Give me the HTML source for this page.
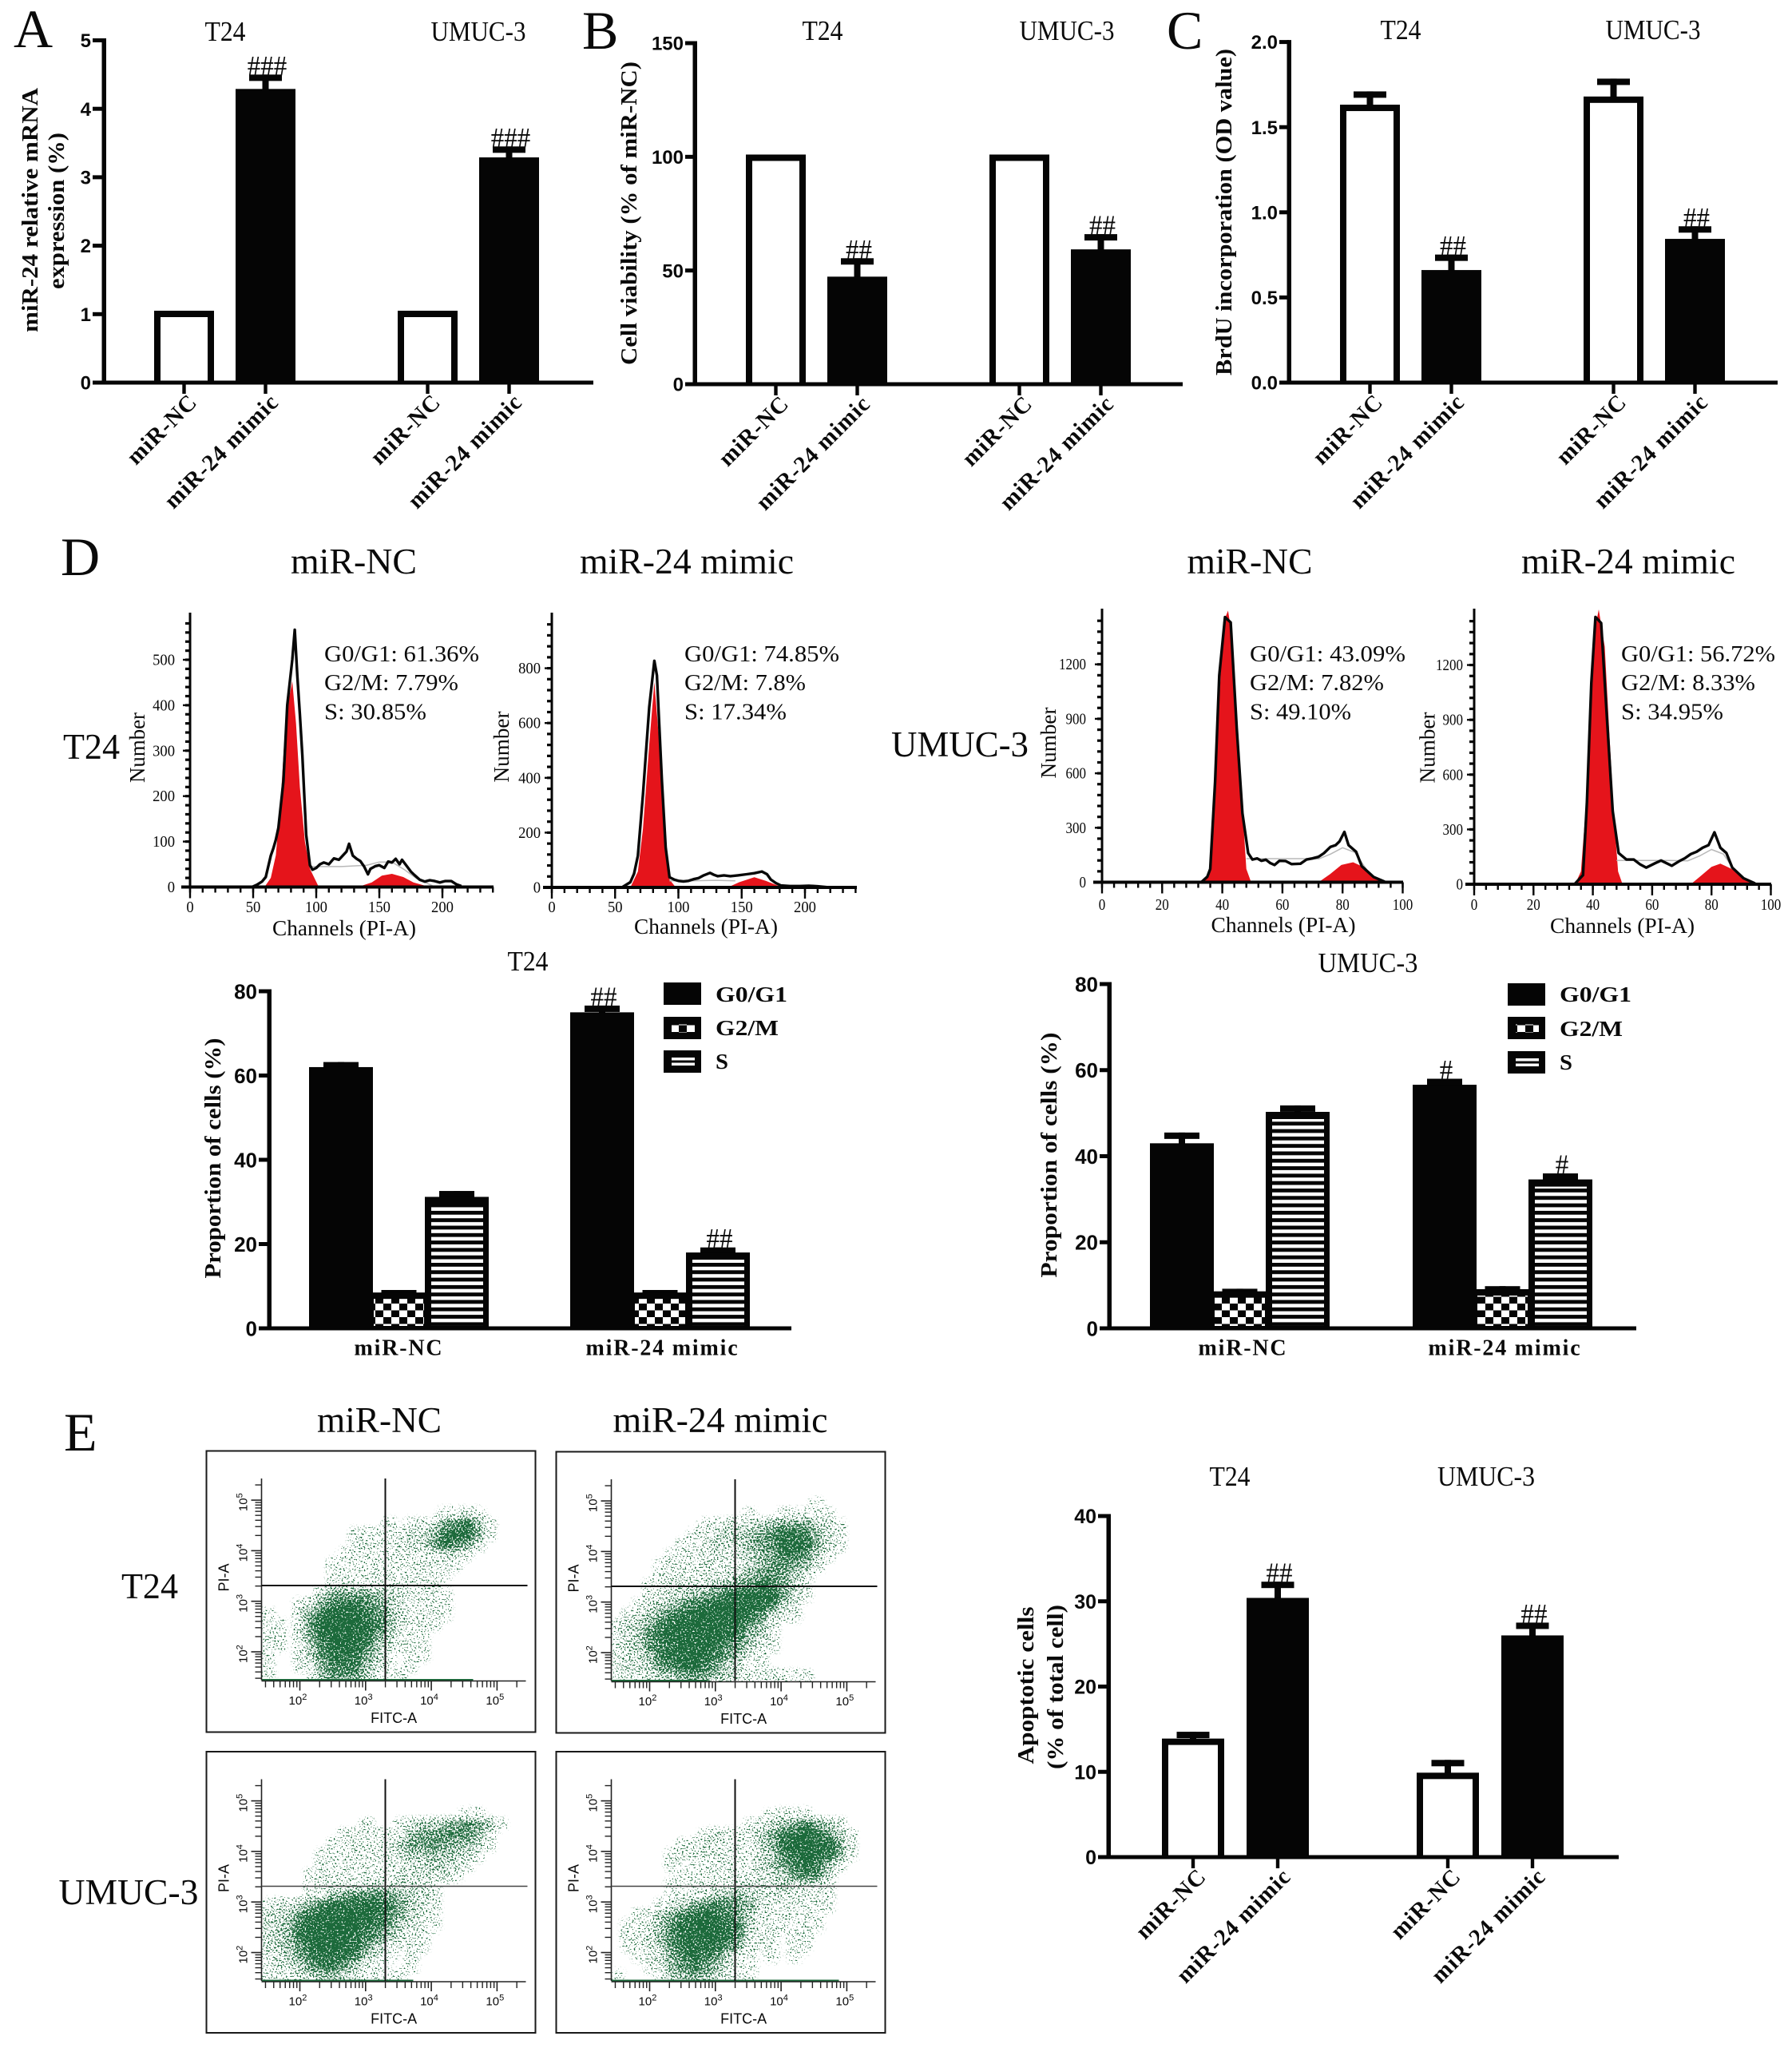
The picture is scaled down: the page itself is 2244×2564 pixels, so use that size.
<!DOCTYPE html>
<html lang="en">
<head>
<meta charset="utf-8">
<title>miR-24 mimic effects on T24 and UMUC-3 cells</title>
<style>
html,body{margin:0;padding:0;background:#fff}
svg{display:block}
text{fill:#0a0a0a}
.serif{font-family:"Liberation Serif",serif}
.bold{font-family:"Liberation Serif",serif;font-weight:700}
.sans{font-family:"Liberation Sans",sans-serif}
.letter{font-family:"Liberation Serif",serif;font-size:68px}
.title{font-family:"Liberation Serif",serif;font-size:35px;text-anchor:middle}
.head{font-family:"Liberation Serif",serif;font-size:45px;text-anchor:middle}
.note{font-family:"Liberation Serif",serif;font-size:29px}
.ylab{font-family:"Liberation Serif",serif;font-weight:700;font-size:28px;text-anchor:middle}
.num{font-family:"Liberation Serif",serif;font-size:27px;text-anchor:middle}
.chan{font-family:"Liberation Serif",serif;font-size:27px;text-anchor:middle}
.leg{font-family:"Liberation Serif",serif;font-weight:700;font-size:27px}
</style>
</head>
<body>
<svg id="figure" xmlns="http://www.w3.org/2000/svg" width="2244" height="2564" viewBox="0 0 2244 2564">
<defs>
<pattern id="check" patternUnits="userSpaceOnUse" width="20" height="17"><rect width="20" height="17" fill="#fff"/><rect width="10" height="8.5" fill="#050505"/><rect x="10" y="8.5" width="10" height="8.5" fill="#050505"/></pattern>
<pattern id="stripe" patternUnits="userSpaceOnUse" width="20" height="9.3"><rect width="20" height="9.3" fill="#fff"/><rect width="20" height="4.8" fill="#050505"/></pattern>
<filter id="speckle" x="0" y="0" width="1" height="1" color-interpolation-filters="sRGB">
<feGaussianBlur in="SourceAlpha" stdDeviation="3.5" result="density"/>
<feTurbulence type="fractalNoise" baseFrequency="0.5" numOctaves="2" seed="7" result="noise"/>
<feColorMatrix in="noise" type="matrix" values="0 0 0 0 0  0 0 0 0 0  0 0 0 0 0  -3 0 0 0 2.0" result="thresh"/>
<feComposite in="density" in2="thresh" operator="arithmetic" k1="0" k2="1" k3="1" k4="-1" result="mix"/>
<feComponentTransfer in="mix" result="hard"><feFuncA type="linear" slope="30" intercept="0"/></feComponentTransfer>
<feFlood flood-color="#1c6a3b" result="green"/>
<feComposite in="green" in2="hard" operator="in"/>
</filter>
</defs>

<text class="letter" x="17" y="59">A</text>
<text class="letter" x="729" y="61">B</text>
<text class="letter" x="1461" y="61">C</text>
<text class="letter" x="76" y="720">D</text>
<text class="letter" x="80" y="1816">E</text>

<text class="title" x="282" y="51" textLength="51" lengthAdjust="spacingAndGlyphs">T24</text>
<text class="title" x="599" y="51" textLength="119" lengthAdjust="spacingAndGlyphs">UMUC-3</text>
<text class="title" x="1030" y="50" textLength="51" lengthAdjust="spacingAndGlyphs">T24</text>
<text class="title" x="1336" y="50" textLength="119" lengthAdjust="spacingAndGlyphs">UMUC-3</text>
<text class="title" x="1754" y="49" textLength="51" lengthAdjust="spacingAndGlyphs">T24</text>
<text class="title" x="2070" y="49" textLength="119" lengthAdjust="spacingAndGlyphs">UMUC-3</text>
<text class="title" x="661" y="1215" textLength="51" lengthAdjust="spacingAndGlyphs">T24</text>
<text class="title" x="1713" y="1217" textLength="125" lengthAdjust="spacingAndGlyphs">UMUC-3</text>
<text class="title" x="1540" y="1860" textLength="51" lengthAdjust="spacingAndGlyphs">T24</text>
<text class="title" x="1861" y="1860" textLength="122" lengthAdjust="spacingAndGlyphs">UMUC-3</text>

<text class="ylab" transform="translate(47,263) rotate(-90)" textLength="306" lengthAdjust="spacingAndGlyphs">miR-24 relative mRNA</text>
<text class="ylab" transform="translate(80,264) rotate(-90)" textLength="196" lengthAdjust="spacingAndGlyphs">expression (%)</text>
<text class="ylab" transform="translate(797,267) rotate(-90)" textLength="380" lengthAdjust="spacingAndGlyphs">Cell viability (% of miR-NC)</text>
<text class="ylab" transform="translate(1542,265.5) rotate(-90)" textLength="409" lengthAdjust="spacingAndGlyphs">BrdU incorporation (OD value)</text>
<text class="ylab" transform="translate(276,1450) rotate(-90)" textLength="301" lengthAdjust="spacingAndGlyphs">Proportion of cells (%)</text>
<text class="ylab" transform="translate(1323,1446) rotate(-90)" textLength="307" lengthAdjust="spacingAndGlyphs">Proportion of cells (%)</text>
<text class="ylab" transform="translate(1294,2110) rotate(-90)" textLength="197" lengthAdjust="spacingAndGlyphs">Apoptotic cells</text>
<text class="ylab" transform="translate(1331,2112) rotate(-90)" textLength="206" lengthAdjust="spacingAndGlyphs">(% of total cell)</text>

<text class="head" x="443" y="718" textLength="158" lengthAdjust="spacingAndGlyphs">miR-NC</text>
<text class="head" x="860" y="718" textLength="268" lengthAdjust="spacingAndGlyphs">miR-24 mimic</text>
<text class="head" x="1565" y="718" textLength="157" lengthAdjust="spacingAndGlyphs">miR-NC</text>
<text class="head" x="2039" y="718" textLength="268" lengthAdjust="spacingAndGlyphs">miR-24 mimic</text>
<text class="head" x="475" y="1793" textLength="156" lengthAdjust="spacingAndGlyphs">miR-NC</text>
<text class="head" x="902" y="1793" textLength="269" lengthAdjust="spacingAndGlyphs">miR-24 mimic</text>

<text class="head" x="114.5" y="950" textLength="71" lengthAdjust="spacingAndGlyphs">T24</text>
<text class="head" x="1202" y="947" textLength="172" lengthAdjust="spacingAndGlyphs">UMUC-3</text>
<text class="head" x="187.5" y="2001" textLength="71" lengthAdjust="spacingAndGlyphs">T24</text>
<text class="head" x="161" y="2384" textLength="175" lengthAdjust="spacingAndGlyphs">UMUC-3</text>

<g id="a"></g>
<g id="b"></g>
<g id="c"></g>
<g id="e"></g>
<g id="dt"></g>
<g id="du"></g>
<g id="h1"></g>
<g id="h2"></g>
<g id="h3"></g>
<g id="h4"></g>
<g id="p1"></g>
<g id="p2"></g>
<g id="p3"></g>
<g id="p4"></g>

<g>
<text class="num" transform="translate(181,936) rotate(-90)" textLength="88" lengthAdjust="spacingAndGlyphs">Number</text>
<text class="chan" x="431" y="1171" textLength="180" lengthAdjust="spacingAndGlyphs">Channels (PI-A)</text>
<text class="note" x="406" y="828" textLength="194" lengthAdjust="spacingAndGlyphs">G0/G1: 61.36%</text>
<text class="note" x="406" y="864" textLength="168" lengthAdjust="spacingAndGlyphs">G2/M: 7.79%</text>
<text class="note" x="406" y="900.5" textLength="128" lengthAdjust="spacingAndGlyphs">S: 30.85%</text>
</g>
<g>
<text class="num" transform="translate(637,935) rotate(-90)" textLength="89" lengthAdjust="spacingAndGlyphs">Number</text>
<text class="chan" x="884" y="1169" textLength="180" lengthAdjust="spacingAndGlyphs">Channels (PI-A)</text>
<text class="note" x="857" y="828" textLength="194" lengthAdjust="spacingAndGlyphs">G0/G1: 74.85%</text>
<text class="note" x="857" y="864" textLength="152" lengthAdjust="spacingAndGlyphs">G2/M: 7.8%</text>
<text class="note" x="857" y="900.5" textLength="128" lengthAdjust="spacingAndGlyphs">S: 17.34%</text>
</g>
<g>
<text class="num" transform="translate(1322,930) rotate(-90)" textLength="89" lengthAdjust="spacingAndGlyphs">Number</text>
<text class="chan" x="1607" y="1167" textLength="181" lengthAdjust="spacingAndGlyphs">Channels (PI-A)</text>
<text class="note" x="1565" y="828" textLength="195" lengthAdjust="spacingAndGlyphs">G0/G1: 43.09%</text>
<text class="note" x="1565" y="864" textLength="168" lengthAdjust="spacingAndGlyphs">G2/M: 7.82%</text>
<text class="note" x="1565" y="900.5" textLength="127" lengthAdjust="spacingAndGlyphs">S: 49.10%</text>
</g>
<g>
<text class="num" transform="translate(1796.5,936) rotate(-90)" textLength="89" lengthAdjust="spacingAndGlyphs">Number</text>
<text class="chan" x="2031.5" y="1168" textLength="181" lengthAdjust="spacingAndGlyphs">Channels (PI-A)</text>
<text class="note" x="2030" y="828" textLength="193" lengthAdjust="spacingAndGlyphs">G0/G1: 56.72%</text>
<text class="note" x="2030" y="864" textLength="168" lengthAdjust="spacingAndGlyphs">G2/M: 8.33%</text>
<text class="note" x="2030" y="900.5" textLength="128" lengthAdjust="spacingAndGlyphs">S: 34.95%</text>
</g>

<g>
<g><rect x="831" y="1230" width="47" height="28" fill="#050505"/><text class="leg" x="896" y="1254" textLength="90" lengthAdjust="spacingAndGlyphs">G0/G1</text></g>
<g><rect x="831" y="1273" width="47" height="28" fill="#050505"/><rect x="841" y="1282.5" width="29" height="10" fill="url(#check)"/><text class="leg" x="896" y="1296" textLength="79" lengthAdjust="spacingAndGlyphs">G2/M</text></g>
<g><rect x="831" y="1315" width="47" height="28" fill="#050505"/><rect x="841" y="1324" width="29" height="3.5" fill="#fff"/><rect x="841" y="1330.5" width="29" height="3.5" fill="#fff"/><text class="leg" x="896" y="1338" textLength="16" lengthAdjust="spacingAndGlyphs">S</text></g>
</g>
<g>
<g><rect x="1888" y="1231" width="47" height="28" fill="#050505"/><text class="leg" x="1953" y="1254" textLength="90" lengthAdjust="spacingAndGlyphs">G0/G1</text></g>
<g><rect x="1888" y="1273" width="47" height="28" fill="#050505"/><rect x="1898" y="1282.5" width="29" height="10" fill="url(#check)"/><text class="leg" x="1953" y="1297" textLength="79" lengthAdjust="spacingAndGlyphs">G2/M</text></g>
<g><rect x="1888" y="1316" width="47" height="28" fill="#050505"/><rect x="1898" y="1325" width="29" height="3.5" fill="#fff"/><rect x="1898" y="1331.5" width="29" height="3.5" fill="#fff"/><text class="leg" x="1953" y="1339" textLength="16" lengthAdjust="spacingAndGlyphs">S</text></g>
</g>
</svg>

<script>
// ---------- bar chart data ----------
const barCategories = ['miR-NC','miR-24 mimic','miR-NC','miR-24 mimic'];
const aTicks = ['0','1','2','3','4','5'];
const aValues = [1.05,4.29,1.05,3.29];
const aErrors = [0,0.21,0,0.16];
const aMarks = ['','###','','###'];
const bTicks = ['0','50','100','150'];
const bValues = [101,47.3,101,59.3];
const bErrors = [0,8.1,0,6.7];
const bMarks = ['','##','','##'];
const cTicks = ['0.0','0.5','1.0','1.5','2.0'];
const cValues = [1.632,0.661,1.68,0.844];
const cErrors = [0.078,0.091,0.105,0.074];
const cMarks = ['','##','','##'];
const eTicks = ['0','10','20','30','40'];
const eValues = [13.9,30.4,9.9,26.0];
const eErrors = [0.8,1.9,1.5,1.5];
const eMarks = ['','##','','##'];

const dGroups = ['miR-NC','miR-24 mimic'];
const dTicks = ['0','20','40','60','80'];
const dT24G0 = [62,75];
const dT24G2 = [8.5,8.5];
const dT24S = [31.2,18];
const dT24G0Err = [1.2,1.6];
const dT24G2Err = [0.6,0.6];
const dT24SErr = [1.4,1.2];
const dT24G0Marks = ['','##'];
const dT24SMarks = ['','##'];
const dUmucG0 = [43,56.6];
const dUmucG2 = [8.6,9.1];
const dUmucS = [50.3,34.6];
const dUmucG0Err = [2.5,1.4];
const dUmucG2Err = [0.6,0.7];
const dUmucSErr = [1.5,1.4];
const dUmucG0Marks = ['','#'];
const dUmucSMarks = ['','#'];

// ---------- histogram data ----------
const h1XTicks = ['0','50','100','150','200'];
const h1YTicks = ['0','100','200','300','400','500'];
const h1Channels = [49,53,57,60,64,66,68,70,71,74,77,81,83,85,87,89,92,95,97,100,103,106,110,114,118,121,124,126,129,132,135,138,141,143,147,150,154,157,160,163,166,168,172,175,178,182,186,190,194,198,202,207,211,215];
const h1Counts = [0,5,12,22,69,85,104,130,156,233,400,500,566,465,380,290,115,48,38,42,50,54,50,63,60,69,78,95,69,62,57,45,28,40,46,48,42,56,54,62,50,60,45,34,26,16,12,15,13,10,13,13,6,2];
const h1G1Channels = [59,64,68,72,76,81,84,87,91,95,102];
const h1G1Counts = [0,20,70,200,380,453,360,220,100,40,0];
const h1G2Channels = [133,144,152,160,169,177,190];
const h1G2Counts = [0,10,25,29,22,10,0];
const h1FitChannels = [95,100,120,140,150,160,170,180,192];
const h1FitCounts = [45,45,45,48,55,55,38,18,3];

const h2XTicks = ['0','50','100','150','200'];
const h2YTicks = ['0','200','400','600','800'];
const h2Channels = [56,62,65,68,72,77,81,83,87,90,93,97,100,104,108,112,116,120,125,128,131,136,141,147,154,160,166,170,173,177,181,188,196,203,210,219];
const h2Counts = [2,19,50,116,338,658,827,774,387,145,37,28,24,22,24,30,34,44,53,46,41,44,41,44,48,52,58,48,29,16,7,5,5,6,4,0];
const h2G1Channels = [62,68,72,77,81,85,89,93,98];
const h2G1Counts = [0,58,213,522,750,522,193,29,0];
const h2G2Channels = [139,148,160,169,181];
const h2G2Counts = [0,19,37,24,2];
const h2FitChannels = [93,110,130,145];
const h2FitCounts = [24,24,26,24];

const h3XTicks = ['0','20','40','60','80','100'];
const h3YTicks = ['0','300','600','900','1200'];
const h3Channels = [33,35,36,37.6,39,40.9,42.8,44.8,46.7,48.6,50,51.6,53,54.5,56,57.4,59,61,63,66,68,70,72,73.8,76,77.7,79,80.6,82,84.5,86.4,90.3,94];
const h3Counts = [0,30,73,555,1139,1460,1431,847,380,160,125,131,118,124,105,95,118,117,100,102,125,131,140,160,195,204,225,277,204,168,88,29,3];
const h3G1Channels = [34,36,37.6,39,40.3,41.9,43.4,45,46.7,48,49.6];
const h3G1Counts = [0,73,482,993,1430,1496,1343,847,409,73,0];
const h3G2Channels = [72,75.8,79.6,83.5,87.4,91,95];
const h3G2Counts = [0,44,95,110,80,26,0];
const h3FitChannels = [48,56,66,72,76,80,84,88];
const h3FitCounts = [130,130,130,128,155,190,165,70];

const h4XTicks = ['0','20','40','60','80','100'];
const h4YTicks = ['0','300','600','900','1200'];
const h4Channels = [33.8,36.7,38,39.5,40.9,42.8,44.8,46.7,48.7,51.3,53.8,56,58,61,63,66.6,69,71,73,75,77,79,81,83,85,87,90.8,94.7];
const h4Counts = [0,50,450,1100,1463,1430,900,400,171,135,135,108,91,115,130,101,125,142,165,178,200,214,284,200,171,91,33,4];
const h4G1Channels = [34,36,38,39.5,41,42,44,45.5,47,48.5,50];
const h4G1Counts = [0,70,500,1000,1420,1504,1300,850,400,70,0];
const h4G2Channels = [73,76,80,83,87,91,94];
const h4G2Counts = [0,40,95,113,82,26,4];
const h4FitChannels = [48,56,66,72,76,80,84,88];
const h4FitCounts = [130,130,130,128,155,190,165,70];

// ---------- dot plot density grids (digit 0-9 per cell) ----------
const flowDecades = ['2','3','4','5'];
const p1Density = [
"000000000000000000000000","000000000000000000000000","000000000000000000000000",
"000000000000000011210000","000000000001011256841000","000000001111122478851000",
"000000001211222587520000","000000011111111122100000","000000111111111111000000",
"000000111111111110000000","000000111111111100000000","000003555543211110000000",
"000125788653211110000000","100258999864211110000000","110269999974111100000000",
"110258999853111000000000","110147999742111000000000","100136888531011000000000",
"100125777421010000000000","100014666311100000000000"];
const p2Density = [
"000000000000000000000000","000000000000000000000000","000000000000000000100000",
"000000000000100111110000","000000001122234555321000","000000011233456887421000",
"000000111322456888521000","000001111212345776310000","000011112111345654200000",
"000011211223456532000000","000112222345787531000000","000122345689999531000000",
"001234678999987310000000","012357899999862110000000","123578999998541000000000",
"123689999987431000000000","123678999865311000000000","122478899754110000000000",
"122367897532010000000000","111233565432111111000000"];
const p3Density = [
"000000000000000000000000","000000000000000000000000","000000000000000000000000",
"000000000000000000110000","000000000100123345654100","000000011111145566641000",
"000000111112355654431000","000001111111233433210000","000001111111222332100000",
"000011111111222221000000","000011111222222100000000","000012456665432200000000",
"122357888987532100000000","223689999986431100000000","234799999875321100000000",
"234899998764211000000000","234689998531111000000000","123578887321010000000000",
"122367753110010000000000","111234432111100000000000"];
const p4Density = [
"000000000000000000000000","000000000000000000000000","000000000000000000000000",
"000000000000001111000000","000000000000112457532000","000000001211135789863100",
"000000112111124899996100","000001111211123689985100","000001011111124578741000",
"000000111111122357630000","000001011212222322210000","000001112344322211110000",
"000012356765421111110000","001135789875311111100000","011246899986311101100000",
"011247899986211011000000","011236889864111011000000","001125787631101010000000",
"000124676421100000000000","100013454311100000000000"];

// ---------- helpers ----------
const NS = 'http://www.w3.org/2000/svg';
const BLACK = '#050505';
function mk(parent, tag, attrs, text) {
  const n = document.createElementNS(NS, tag);
  for (const k in attrs) n.setAttribute(k, attrs[k]);
  if (text !== undefined) n.textContent = text;
  parent.appendChild(n);
  return n;
}
function linearScale(d0, d1, r0, r1) {
  return v => r0 + (v - d0) / (d1 - d0) * (r1 - r0);
}

function drawYAxis(g, L, ticks, yScale) {
  ticks.forEach(label => {
    const y = yScale(parseFloat(label));
    const tick = mk(g, 'rect', {x: L.tickLeft, y: y - 2.5, width: L.axisX - L.tickLeft, height: 5, fill: BLACK});
    
    
    const t = mk(g, 'text', {x: L.tickLeft - 2, y: y + L.tickFont * 0.36, 'text-anchor': 'end', 'font-size': L.tickFont, 'font-weight': 700, class: 'sans'}, label);
    
    
  });
  const yAxisLine = mk(g, 'rect', {x: L.axisX - 2.5, y: L.yTop - 2.5, width: 5.5, height: L.y0 - L.yTop + 5, fill: BLACK});
  
  
  const xAxisLine = mk(g, 'rect', {x: L.tickLeft, y: L.y0 - 2.5, width: L.axisEnd - L.tickLeft, height: 5, fill: BLACK});
  
  
}

function drawCap(g, cx, capTop, barTop, capW) {
  const stem = mk(g, 'rect', {x: cx - 4, y: capTop, width: 8, height: Math.max(0, barTop - capTop) + 2, fill: BLACK});
  
  
  const cap = mk(g, 'rect', {x: cx - capW / 2, y: capTop, width: capW, height: 8, fill: BLACK});
  
  
}
function drawMark(g, cx, capTop, mark) {
  if (!mark) return;
  const t = mk(g, 'text', {x: cx + 2, y: capTop + 1, 'text-anchor': 'middle', 'font-size': 36, class: 'serif', textLength: mark.length * 16.5, lengthAdjust: 'spacingAndGlyphs'}, mark);
  
  
}

function drawBarChart(id, L, ticks, categories, values, errors, marks) {
  const g = document.getElementById(id);
  const yScale = linearScale(0, parseFloat(ticks[ticks.length - 1]), L.y0, L.yTop);
  const barX = i => L.left + Math.floor(i / 2) * L.groupPitch + (i % 2) * L.barPitch;
  values.forEach((v, i) => {
    const x = barX(i), cx = x + L.barW / 2, top = yScale(v);
    const capTop = yScale(v + errors[i]);
    if (errors[i] > 0) drawCap(g, cx, capTop, top, 41);
    const bar = mk(g, 'rect', {x: x, y: top, width: L.barW, height: L.y0 - top, fill: BLACK});
    
    
    if (i % 2 === 0) {
      const hollow = mk(g, 'rect', {x: x + 8, y: top + 8, width: L.barW - 16, height: L.y0 - top - 8, fill: '#fff'});
      
      
    }
    drawMark(g, cx, errors[i] > 0 ? capTop : top, marks[i]);
    const xtick = mk(g, 'rect', {x: cx - 2.2, y: L.y0, width: 4.4, height: 14, fill: BLACK});
    
    
    const ax = cx + 18, ay = L.y0 + 26;
    const lab = mk(g, 'text', {transform: 'translate(' + ax + ',' + ay + ') rotate(-45)', 'text-anchor': 'end', 'font-size': 29, 'letter-spacing': 1, class: 'bold'}, categories[i]);
    
    
  });
  drawYAxis(g, L, ticks, yScale);
}

function drawGroupedChart(id, L, ticks, groups, g0, g2, s, g0Err, g2Err, sErr, g0Marks, sMarks) {
  const g = document.getElementById(id);
  const yScale = linearScale(0, parseFloat(ticks[ticks.length - 1]), L.y0, L.yTop);
  groups.forEach((name, i) => {
    const base = L.left + i * L.groupPitch;
    const xG0 = base, xG2 = base + L.w0, xS = xG2 + L.w2;
    // G0/G1 solid
    const tG0 = yScale(g0[i]);
    drawCap(g, xG0 + L.w0 / 2 - 0, yScale(g0[i] + g0Err[i]), tG0, 44);
    const r0 = mk(g, 'rect', {x: xG0, y: tG0, width: L.w0, height: L.y0 - tG0, fill: BLACK});
    
    
    drawMark(g, xG0 + L.w0 / 2, yScale(g0[i] + g0Err[i]), g0Marks[i]);
    // G2/M checker
    const tG2 = yScale(g2[i]);
    drawCap(g, xG2 + L.w2 / 2, yScale(g2[i] + g2Err[i]), tG2, 44);
    const r2a = mk(g, 'rect', {x: xG2, y: tG2, width: L.w2, height: L.y0 - tG2, fill: BLACK});
    
    
    const r2b = mk(g, 'rect', {x: xG2 + 1, y: tG2 + 8, width: L.w2 - 2, height: L.y0 - tG2 - 11, fill: 'url(#check)'});
    
    
    // S striped
    const tS = yScale(s[i]);
    drawCap(g, xS + L.w0 / 2, yScale(s[i] + sErr[i]), tS, 44);
    const r3a = mk(g, 'rect', {x: xS, y: tS, width: L.w0, height: L.y0 - tS, fill: BLACK});
    
    
    const r3b = mk(g, 'rect', {x: xS + 8, y: tS + 9, width: L.w0 - 15, height: L.y0 - tS - 12, fill: 'url(#stripe)'});
    
    
    drawMark(g, xS + L.w0 / 2, yScale(s[i] + sErr[i]), sMarks[i]);
    const lab = mk(g, 'text', {x: xG2 + L.w2 / 2 + (i ? 3 : L.firstLabelShift), y: L.y0 + 33.5, 'text-anchor': 'middle', 'font-size': 28, 'letter-spacing': 1.8, class: 'bold'}, name);
    
    
  });
  drawYAxis(g, L, ticks, yScale);
}

function pts(chs, cnts, x, y) {
  return chs.map((c, i) => x(c).toFixed(1) + ',' + y(cnts[i]).toFixed(1)).join(' ');
}
function drawHistogram(id, L, xTicks, yTicks, channels, counts, g1Ch, g1Cnt, g2Ch, g2Cnt, fitCh, fitCnt) {
  const g = document.getElementById(id);
  const x = v => L.x0 + v * L.pxX;
  const y = v => L.y0 - v * L.pxY;
  [[g1Ch, g1Cnt, 'g1-peak-fill'], [g2Ch, g2Cnt, 'g2-peak-fill']].forEach(s => {
    const poly = mk(g, 'polygon', {points: pts(s[0], s[1], x, y), fill: '#e5141b'});
    
    
  });
  const fit = mk(g, 'polyline', {points: pts(fitCh, fitCnt, x, y), fill: 'none', stroke: '#b8b8b8', 'stroke-width': 1.5});
  
  
  const line = mk(g, 'polyline', {points: pts(channels, counts, x, y), fill: 'none', stroke: '#080808', 'stroke-width': 3.4, 'stroke-linejoin': 'round'});
  
  

  const axisX = mk(g, 'rect', {x: L.x0 - 11, y: L.y0 - 2, width: L.xEnd - L.x0 + 11, height: 4, fill: BLACK});
  
  
  const axisY = mk(g, 'rect', {x: L.x0 - 1.5, y: L.yTop, width: 3, height: L.y0 - L.yTop, fill: BLACK});
  
  

  const xMax = (L.xEnd - L.x0) / L.pxX;
  for (let v = 0; v <= xMax + 0.01; v += L.xMinor) {
    const tk = mk(g, 'rect', {x: x(v) - 1.2, y: L.y0, width: 2.4, height: 7, fill: BLACK});
    
    
  }
  const yMax = (L.y0 - L.yTop) / L.pxY;
  for (let v = L.yMinor; v <= yMax - 10; v += L.yMinor) {
    const tk = mk(g, 'rect', {x: L.x0 - 6, y: y(v) - 1.6, width: 6, height: 3.2, fill: BLACK});
    
    
  }
  xTicks.forEach(label => {
    const v = parseFloat(label);
    const tk = mk(g, 'rect', {x: x(v) - 1.2, y: L.y0, width: 2.4, height: 14, fill: BLACK});
    
    
    const t = mk(g, 'text', {x: x(v), y: L.xLabelY, 'text-anchor': 'middle', 'font-size': 20, class: 'serif', textLength: label.length * L.digitW, lengthAdjust: 'spacingAndGlyphs'}, label);
    
    
  });
  yTicks.forEach(label => {
    const v = parseFloat(label);
    const tk = mk(g, 'rect', {x: L.x0 - 9, y: y(v) - 1.2, width: 9, height: 2.4, fill: BLACK});
    
    
    const t = mk(g, 'text', {x: L.x0 - L.labelGap, y: y(v) + 6.5, 'text-anchor': 'end', 'font-size': 20, class: 'serif', textLength: label.length * L.digitW, lengthAdjust: 'spacingAndGlyphs'}, label);
    
    
  });
}

function drawDotPlot(id, bx, by, rows, baseEnd, thinH) {
  const g = document.getElementById(id);
  const box = mk(g, 'rect', {x: bx, y: by, width: 412, height: 352, fill: '#fff', stroke: '#1a1a1a', 'stroke-width': 2});
  
  
  const ax = bx + 69, top = by + 34.5, bot = by + 287, right = bx + 400;
  const cellW = 333 / 24, cellH = (bot - top) / 20;
  const cloud = mk(g, 'g', {filter: 'url(#speckle)'});
  
  
  rows.forEach((row, r) => {
    for (let c = 0; c < row.length; c++) {
      const cell = mk(cloud, 'rect', {x: ax + c * cellW, y: top + r * cellH, width: cellW + 0.3, height: cellH + 0.3, fill: '#000', 'fill-opacity': (+row[c] / 9).toFixed(2)});
      
      
    }
  });
  const baseLine = mk(g, 'rect', {x: ax, y: bot - 1.5, width: baseEnd, height: 2.5, fill: '#1c6a3b'});
  
  

  const xDec = v => ax + 48 + (v - 2) * 82.3;
  const yDec = v => by + 251.5 - (v - 2) * 63.3;
  const linesDef = [[ax, top, ax, bot, 1.6, 'y-axis-line'], [ax, bot + 1, right, bot + 1, 1.4, 'x-axis-line']];
  linesDef.forEach(d => {
    const l = mk(g, 'line', {x1: d[0], y1: d[1], x2: d[2], y2: d[3], stroke: '#222', 'stroke-width': d[4]});
    
    
  });
  const mult = [2,3,4,5,6,7,8,9];
  for (let dec = 1; dec <= 5; dec++) {
    mult.forEach(m => {
      const p = dec + Math.log10(m);
      const tx = xDec(p);
      if (tx > ax && tx < right) {
        const tkx = mk(g, 'line', {x1: tx, y1: bot + 1, x2: tx, y2: bot + 9, stroke: '#222', 'stroke-width': 1.4});
        
        
      }
      const ty = yDec(p);
      if (ty > top && ty < bot) {
        const tky = mk(g, 'line', {x1: ax - 8, y1: ty, x2: ax, y2: ty, stroke: '#222', 'stroke-width': 1.4});
        
        
      }
    });
  }
  flowDecades.forEach(label => {
    const e = parseFloat(label);
    const tx = xDec(e), ty = yDec(e);
    const tkx = mk(g, 'line', {x1: tx, y1: bot + 1, x2: tx, y2: bot + 13, stroke: '#222', 'stroke-width': 1.6});
    
    
    const tky = mk(g, 'line', {x1: ax - 13, y1: ty, x2: ax, y2: ty, stroke: '#222', 'stroke-width': 1.6});
    
    
    const lx = mk(g, 'text', {x: tx - 14, y: by + 317.5, 'font-size': 15, class: 'sans', fill: '#222'}, '10');
    
    
    const sx = mk(lx, 'tspan', {dy: -6, 'font-size': 11}, label);
    
    
    const ly = mk(g, 'text', {transform: 'translate(' + (bx + 51) + ',' + (ty + 14) + ') rotate(-90)', 'font-size': 15, class: 'sans'}, '10');
    
    
    const sy = mk(ly, 'tspan', {dy: -6, 'font-size': 11}, label);
    
    
  });
  const vGate = mk(g, 'line', {x1: bx + 224, y1: top, x2: bx + 224, y2: bot, stroke: '#111', 'stroke-width': 2});
  
  
  const hGate = mk(g, 'line', {x1: ax, y1: by + 168.5, x2: bx + 402, y2: by + 168.5, stroke: thinH ? '#444' : '#111', 'stroke-width': thinH ? 1.4 : 2});
  
  
  const xt = mk(g, 'text', {x: bx + 234.6, y: by + 340.5, 'text-anchor': 'middle', 'font-size': 18, class: 'sans', textLength: 58, lengthAdjust: 'spacingAndGlyphs'}, 'FITC-A');
  
  
  const yt = mk(g, 'text', {transform: 'translate(' + (bx + 28) + ',' + (by + 158.5) + ') rotate(-90)', 'text-anchor': 'middle', 'font-size': 18, class: 'sans'}, 'PI-A');
  
  
}

// ---------- render ----------
drawBarChart('a', {axisX:130,tickLeft:116,axisEnd:743,y0:479,yTop:50.5,left:193,barW:75,barPitch:102,groupPitch:305,tickFont:24}, aTicks, barCategories, aValues, aErrors, aMarks);
drawBarChart('b', {axisX:870,tickLeft:858,axisEnd:1481,y0:481,yTop:54,left:934,barW:75,barPitch:102,groupPitch:305,tickFont:24}, bTicks, barCategories, bValues, bErrors, bMarks);
drawBarChart('c', {axisX:1614,tickLeft:1602,axisEnd:2226,y0:479,yTop:52.6,left:1678,barW:75,barPitch:102,groupPitch:305,tickFont:24}, cTicks, barCategories, cValues, cErrors, cMarks);
drawBarChart('e', {axisX:1388,tickLeft:1375,axisEnd:2027,y0:2325,yTop:1898,left:1455,barW:78,barPitch:106,groupPitch:319,tickFont:25}, eTicks, barCategories, eValues, eErrors, eMarks);

drawGroupedChart('dt', {axisX:337,tickLeft:324,axisEnd:991,y0:1663,yTop:1241,left:387,w0:80,w2:65,groupPitch:327,tickFont:26,firstLabelShift:0}, dTicks, dGroups, dT24G0, dT24G2, dT24S, dT24G0Err, dT24G2Err, dT24SErr, dT24G0Marks, dT24SMarks);
drawGroupedChart('du', {axisX:1389,tickLeft:1377,axisEnd:2049,y0:1663,yTop:1232,left:1440,w0:80,w2:65,groupPitch:329,tickFont:26,firstLabelShift:4}, dTicks, dGroups, dUmucG0, dUmucG2, dUmucS, dUmucG0Err, dUmucG2Err, dUmucSErr, dUmucG0Marks, dUmucSMarks);

drawHistogram('h1', {x0:238,pxX:1.58,y0:1110.5,pxY:0.569,xEnd:618,yTop:767,xMinor:10,yMinor:20,labelGap:19,xLabelY:1142,digitW:9.3}, h1XTicks, h1YTicks, h1Channels, h1Counts, h1G1Channels, h1G1Counts, h1G2Channels, h1G2Counts, h1FitChannels, h1FitCounts);
drawHistogram('h2', {x0:691,pxX:1.585,y0:1111,pxY:0.343,xEnd:1073,yTop:767,xMinor:10,yMinor:40,labelGap:14,xLabelY:1142,digitW:9.3}, h2XTicks, h2YTicks, h2Channels, h2Counts, h2G1Channels, h2G1Counts, h2G2Channels, h2G2Counts, h2FitChannels, h2FitCounts);
drawHistogram('h3', {x0:1380,pxX:3.765,y0:1104.5,pxY:0.2273,xEnd:1757,yTop:762,xMinor:4,yMinor:60,labelGap:20,xLabelY:1139,digitW:8.5}, h3XTicks, h3YTicks, h3Channels, h3Counts, h3G1Channels, h3G1Counts, h3G2Channels, h3G2Counts, h3FitChannels, h3FitCounts);
drawHistogram('h4', {x0:1846,pxX:3.715,y0:1107,pxY:0.2287,xEnd:2218,yTop:762,xMinor:4,yMinor:60,labelGap:14,xLabelY:1139,digitW:8.5}, h4XTicks, h4YTicks, h4Channels, h4Counts, h4G1Channels, h4G1Counts, h4G2Channels, h4G2Counts, h4FitChannels, h4FitCounts);

drawDotPlot('p1', 258.5, 1816.5, p1Density, 265, false);
drawDotPlot('p2', 696.5, 1817.5, p2Density, 120, false);
drawDotPlot('p3', 258.5, 2193, p3Density, 190, true);
drawDotPlot('p4', 696.5, 2193, p4Density, 285, true);
</script>
</body>
</html>
